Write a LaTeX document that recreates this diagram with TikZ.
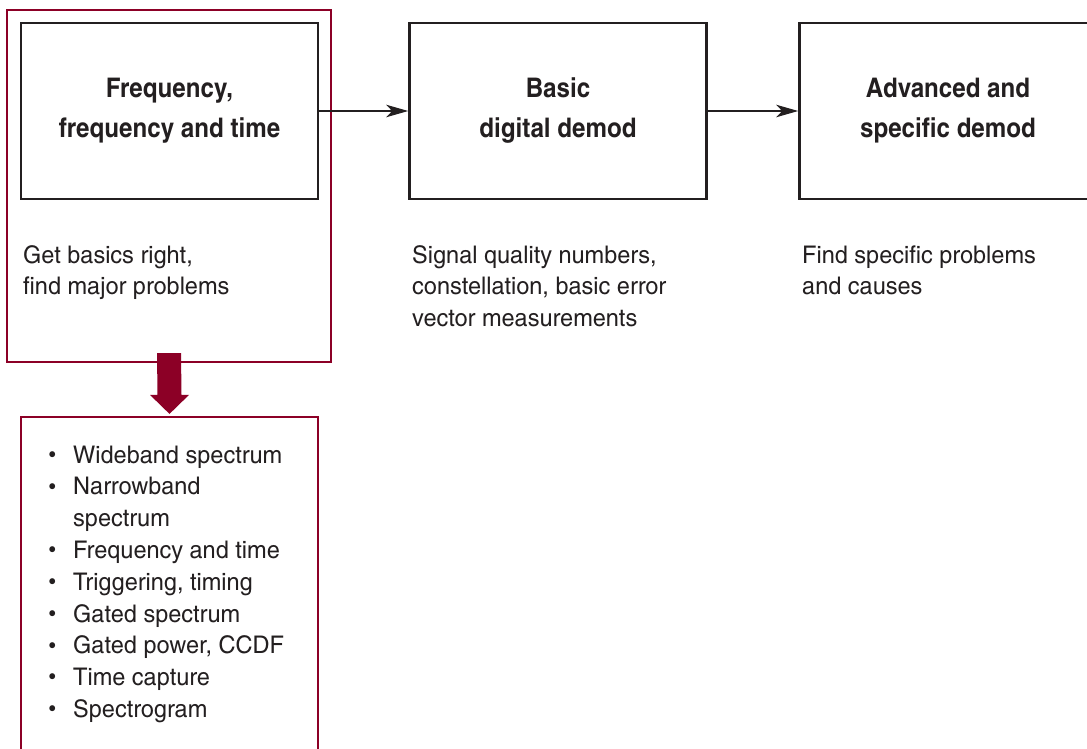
\documentclass[tikz,border=0pt]{standalone}
\usepackage{fontspec}
\setmainfont{texgyreheroscn}[Extension=.otf, UprightFont=*-regular, BoldFont=*-bold,
  UprightFeatures={FakeStretch=1.18}, BoldFeatures={FakeStretch=1.09}]
\usetikzlibrary{arrows.meta,calc}
\definecolor{agred}{RGB}{140,0,38}
\definecolor{ink}{RGB}{35,31,32}
\newcommand\mylines[1]{\begin{tabular}[t]{@{}l@{}}#1\end{tabular}}
\newcommand\mybul{\makebox[24pt][l]{\raisebox{1.8pt}{\fontsize{19}{19}\selectfont\textbullet}}}
\begin{document}
\begin{tikzpicture}[x=1pt,y=-1pt,
  redbox/.style={draw=agred, line width=2.2pt, inner sep=0pt},
  blkbox/.style={draw=ink, line width=2.6pt, minimum width=297pt, minimum height=176pt,
    align=center, text=ink, font=\fontsize{27}{40}\selectfont\bfseries},
  desc/.style={text=ink, inner sep=0pt, font=\fontsize{24.3}{31.8}\selectfont},
  conn/.style={draw=ink, line width=2pt, -{Stealth[length=22pt, width=12.5pt, inset=6pt]}}]
\useasboundingbox (0,0) rectangle (1087,748);
\begin{scope}
  \clip (0,0) rectangle (1087,748);
  \node[redbox, minimum width=324pt, minimum height=352pt] (ra) at (169,186) {};
  \node[redbox, minimum width=297pt, minimum height=360pt] (rb) at (169.5,597) {};
  \node[blkbox] (f) at (169.5,111) {Frequency,\\frequency and time};
  \node[blkbox] (b) at (558,111) {Basic\\digital demod};
  \node[blkbox] (a) at (948,111) {Advanced and\\specific demod};
\end{scope}
\draw[conn] (f.east) -- (b.west);
\draw[conn] (b.east) -- (a.west);
\fill[agred] ([shift={(-12,-10)}]ra.south) -- ([shift={(12,-10)}]ra.south)
  -- ([shift={(12,-21)}]rb.north) -- ([shift={(19.5,-21)}]rb.north)
  -- ([shift={(0,-2)}]rb.north) -- ([shift={(-19.5,-21)}]rb.north)
  -- ([shift={(-12,-21)}]rb.north) -- cycle;
\node[desc, anchor=base west] (fd) at (23,263) {\mylines{Get basics right,\\find major problems}};
\node[desc, anchor=base west] (bd) at (412,263) {\mylines{Signal quality numbers,\\constellation, basic error\\vector measurements}};
\node[desc, anchor=base west] (ad) at (802,263) {\mylines{Find specific problems\\and causes}};
\node[desc, anchor=base west] (lst) at (49,463) {\begin{tabular}[t]{@{}l@{}l@{}}
\mybul & Wideband spectrum\\
\mybul & Narrowband\\
 & spectrum\\
\mybul & Frequency and time\\
\mybul & Triggering, timing\\
\mybul & Gated spectrum\\
\mybul & Gated power, CCDF\\
\mybul & Time capture\\
\mybul & Spectrogram
\end{tabular}};
\end{tikzpicture}
\end{document}
